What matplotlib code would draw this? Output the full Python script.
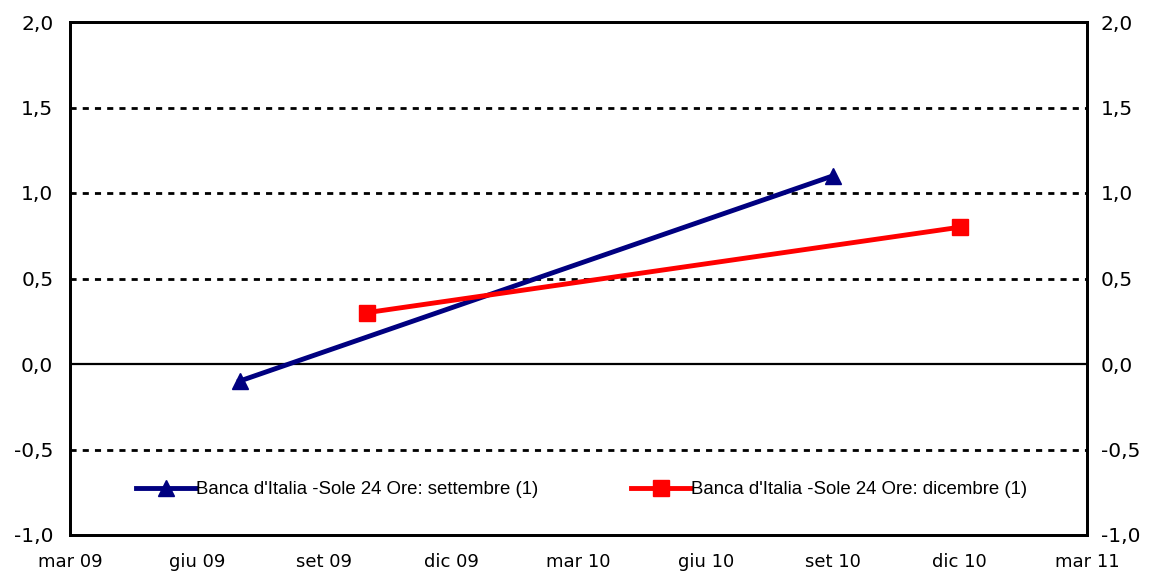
import matplotlib.pyplot as plt
from matplotlib.ticker import FuncFormatter

# Months counted from March 2009
tick_months = [0, 3, 6, 9, 12, 15, 18, 21, 24]
tick_labels = ['mar 09', 'giu 09', 'set 09', 'dic 09', 'mar 10',
               'giu 10', 'set 10', 'dic 10', 'mar 11']

sett_months = [4, 18]
sett_values = [-0.1, 1.1]
dic_months = [7, 21]
dic_values = [0.3, 0.8]

sett_label = "Banca d'Italia -Sole 24 Ore: settembre (1)"
dic_label = "Banca d'Italia -Sole 24 Ore: dicembre (1)"

fig = plt.figure(figsize=(11.5, 5.71), dpi=100)
ax = fig.add_axes([70 / 1150, 1 - 535 / 571, 1017 / 1150, 513 / 571])

ax.set_xlim(0, 24)
ax.set_ylim(-1.0, 2.0)

# dashed gridlines, solid zero line
for y in [-0.5, 0.5, 1.0, 1.5]:
    ax.axhline(y, color='black', lw=2, ls=(0, (2.2, 2.2)), zorder=1)
ax.axhline(0, color='black', lw=1.6, zorder=1)

ax.plot(sett_months, sett_values, color='#000080', lw=3.5, marker='^',
        markersize=12, label=sett_label, zorder=3)
ax.plot(dic_months, dic_values, color='#ff0000', lw=3.5, marker='s',
        markersize=11.5, label=dic_label, zorder=3)

fmt = FuncFormatter(lambda v, _: f'{v:.1f}'.replace('.', ','))
yticks = [-1.0, -0.5, 0.0, 0.5, 1.0, 1.5, 2.0]
ax.set_yticks(yticks)
ax.yaxis.set_major_formatter(fmt)
ax.set_xticks(tick_months)
ax.set_xticklabels(tick_labels)
ax.tick_params(axis='x', length=0, labelsize=13, pad=13)
ax.tick_params(axis='y', length=0, labelsize=14.5, pad=12)

ax2 = ax.twinx()
ax2.set_ylim(ax.get_ylim())
ax2.set_yticks(yticks)
ax2.yaxis.set_major_formatter(fmt)
ax2.tick_params(axis='y', length=0, labelsize=14.5, pad=10)

for a in (ax, ax2):
    for s in a.spines.values():
        s.set_linewidth(2)
        s.set_color('black')

leg = ax.legend(loc='center', bbox_to_anchor=(0.503, 0.088), ncol=2,
                frameon=False, handlelength=3.2, handletextpad=0.0,
                columnspacing=5.0, prop={'family': 'Liberation Sans', 'size': 13.4})

fig.savefig('out.png', dpi=100)
